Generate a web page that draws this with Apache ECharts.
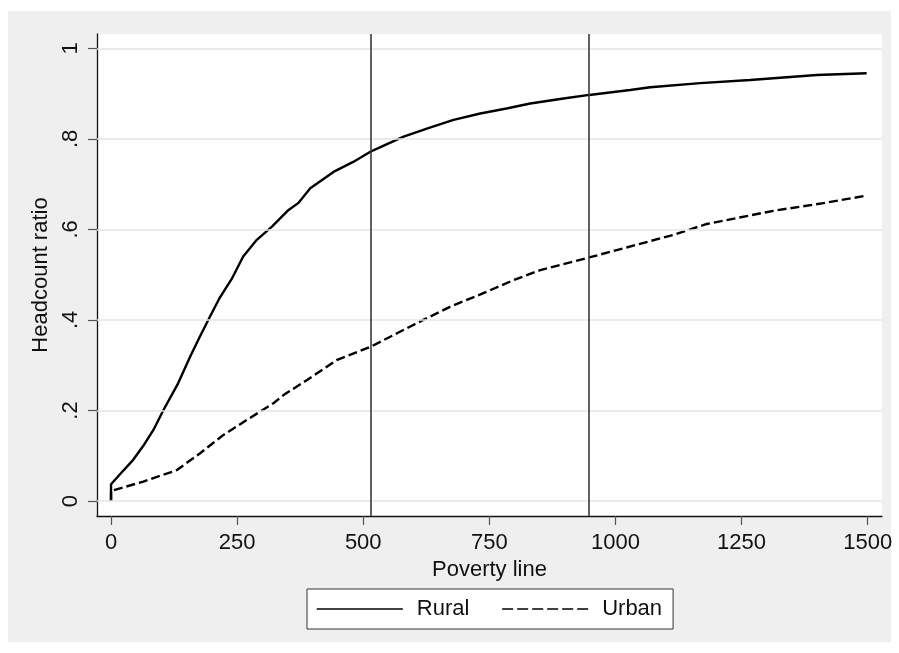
<!DOCTYPE html>
<html>
<head>
<meta charset="utf-8">
<script src="https://cdn.jsdelivr.net/npm/echarts@6/dist/echarts.min.js"></script>
<style>
html,body{margin:0;padding:0;background:#fff;}
#chart{width:899px;height:653px;}
</style>
</head>
<body>
<div id="chart"></div>
<script>
var xTicks = [0, 250, 500, 750, 1000, 1250, 1500];
var xTickLabels = ['0', '250', '500', '750', '1000', '1250', '1500'];
var yTicks = [0, 0.2, 0.4, 0.6, 0.8, 1];
var yTickLabels = ['0', '.2', '.4', '.6', '.8', '1'];
var povertyLines = [515, 948];

var ruralX = [0, 0, 20, 44, 64, 84, 104, 133, 157, 176, 196, 216, 239, 262, 289, 319, 352, 371, 395, 441, 480, 515, 533, 580, 632, 679, 732, 784, 831, 897, 948, 1029, 1069, 1168, 1267, 1399, 1498];
var ruralY = [0, 0.037, 0.062, 0.091, 0.122, 0.157, 0.201, 0.26, 0.319, 0.363, 0.407, 0.45, 0.49, 0.54, 0.577, 0.606, 0.643, 0.658, 0.691, 0.727, 0.749, 0.772, 0.781, 0.805, 0.825, 0.842, 0.856, 0.867, 0.878, 0.889, 0.897, 0.908, 0.914, 0.923, 0.930, 0.941, 0.945];

var urbanX = [0, 0, 64, 130, 176, 223, 269, 322, 342, 388, 447, 515, 566, 619, 672, 738, 798, 851, 948, 1022, 1115, 1181, 1313, 1412, 1495];
var urbanY = [0, 0.022, 0.043, 0.068, 0.105, 0.146, 0.179, 0.216, 0.234, 0.267, 0.311, 0.341, 0.370, 0.400, 0.429, 0.459, 0.488, 0.510, 0.538, 0.560, 0.588, 0.612, 0.641, 0.658, 0.674];

function zip(a, b) { return a.map(function (v, i) { return [v, b[i]]; }); }
function lookup(ticks, labels) {
  return function (v) {
    for (var i = 0; i < ticks.length; i++) { if (Math.abs(ticks[i] - v) < 1e-6) return labels[i]; }
    return '';
  };
}

var FONT = '"Liberation Sans", Arial, Helvetica, sans-serif';
var FS = 22;
var hiddenSymbol = {opacity: 0, color: 'rgba(0,0,0,0)', borderColor: 'rgba(0,0,0,0)', borderWidth: 0};

var chart = echarts.init(document.getElementById('chart'), null, {renderer: 'canvas'});
chart.setOption({
  animation: false,
  backgroundColor: '#ffffff',
  textStyle: {fontFamily: FONT},
  graphic: [{
    type: 'rect', z: -10, silent: true,
    shape: {x: 8, y: 11, width: 883, height: 631},
    style: {fill: '#efefef'}
  }],
  grid: {
    left: 97, top: 34, right: 17, bottom: 137,
    show: true, backgroundColor: '#ffffff', borderWidth: 0
  },
  xAxis: {
    type: 'value', min: -27.8, max: 1528.4,
    name: 'Poverty line', nameLocation: 'middle', nameGap: 35,
    nameTextStyle: {fontSize: FS, color: '#111', fontFamily: FONT, lineHeight: 22},
    axisLine: {show: true, onZero: false, lineStyle: {color: '#111', width: 1.3}},
    axisTick: {show: true, length: 9, customValues: xTicks, lineStyle: {color: '#555', width: 1.2}},
    axisLabel: {show: true, customValues: xTicks, margin: 16, fontSize: FS, color: '#111', fontFamily: FONT, lineHeight: 22,
      formatter: lookup(xTicks, xTickLabels)},
    splitLine: {show: false}
  },
  yAxis: {
    type: 'value', min: -0.0331, max: 1.0316,
    name: 'Headcount ratio', nameLocation: 'middle', nameGap: 40, nameRotate: 90,
    nameTextStyle: {fontSize: FS, color: '#111', fontFamily: FONT, lineHeight: 22},
    axisLine: {show: true, onZero: false, lineStyle: {color: '#111', width: 1.3}},
    axisTick: {show: true, length: 9, customValues: yTicks, lineStyle: {color: '#555', width: 1.2}},
    axisLabel: {
      show: true, customValues: yTicks, rotate: 90, margin: 15, fontSize: FS, color: '#111', fontFamily: FONT, lineHeight: 22,
      formatter: lookup(yTicks, yTickLabels)
    },
    splitLine: {show: false}
  },
  legend: {
    left: 307, top: 589,
    orient: 'horizontal',
    data: [
      {name: 'Rural', lineStyle: {width: 1.6, type: 'solid'}, itemStyle: hiddenSymbol},
      {name: 'Urban', lineStyle: {width: 1.6, type: [11, 4]}, itemStyle: hiddenSymbol}
    ],
    itemStyle: hiddenSymbol,
    itemWidth: 86, itemHeight: 14, itemGap: 32,
    padding: [9, 11, 9, 9],
    backgroundColor: '#ffffff', borderColor: '#333', borderWidth: 1, borderRadius: 0,
    textStyle: {fontSize: FS, color: '#111', fontFamily: FONT, lineHeight: 22, padding: [0, 0, 0, 9]}
  },
  series: [
    {
      name: 'gridlines', type: 'line', data: [], silent: true, z: 1,
      markLine: {
        silent: true, symbol: 'none', label: {show: false},
        lineStyle: {color: '#e4e4e4', width: 1.6, type: 'solid'},
        data: yTicks.map(function (v) { return {yAxis: v}; })
      }
    },
    {
      name: 'Rural', type: 'line', data: zip(ruralX, ruralY), symbol: 'none', z: 3,
      lineStyle: {color: '#000', width: 2.4, type: 'solid'},
      itemStyle: {color: '#000'},
      markLine: {
        silent: true, symbol: 'none', label: {show: false},
        lineStyle: {color: '#3a3a3a', width: 1.6, type: 'solid'},
        data: povertyLines.map(function (v) { return {xAxis: v}; })
      }
    },
    {
      name: 'Urban', type: 'line', data: zip(urbanX, urbanY), symbol: 'none', z: 3,
      lineStyle: {color: '#000', width: 2.4, type: [9, 4]},
      itemStyle: {color: '#000'}
    }
  ]
});
</script>
</body>
</html>
